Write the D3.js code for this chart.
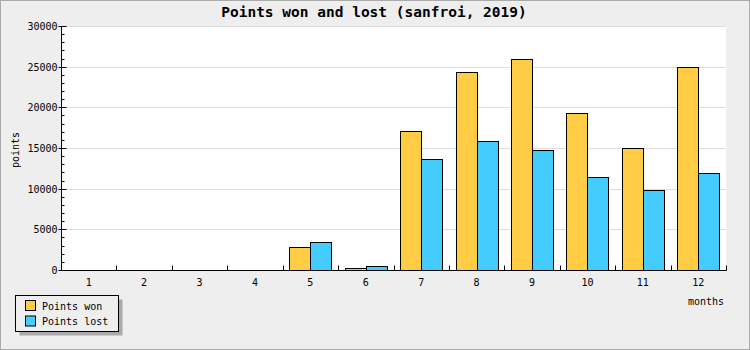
<!DOCTYPE html>
<html><head><meta charset="utf-8">
<script src="https://cdn.jsdelivr.net/npm/d3@7"></script>
<style>html,body{margin:0;padding:0;background:#eeeeee;}svg{display:block;}</style>
</head><body>
<svg id="c" width="750" height="350"></svg>
<script>
const months = ["1","2","3","4","5","6","7","8","9","10","11","12"];
const pointsWon  = [0,0,0,0,2800,200,17050,24300,25900,19270,15000,24920];
const pointsLost = [0,0,0,0,3400,450,13600,15820,14720,11400,9800,11900];
const seriesNames = ["Points won","Points lost"];
const seriesColors = ["#ffcc44","#44ccff"];
const yTicks = [0,5000,10000,15000,20000,25000,30000];
const titleText = "Points won and lost (sanfroi, 2019)";

const svg = d3.select("#c");
const W = 750, H = 350;
const m = {l:61, r:24, t:26, b:80};
const font = "'DejaVu Sans Mono', monospace";

svg.append("rect").attr("x",0.5).attr("y",0.5).attr("width",W-1).attr("height",H-1)
  .attr("fill","#eeeeee").attr("stroke","#aaaaaa");

const x = d3.scaleBand().domain(months).range([m.l, W-m.r]).padding(0);
const xs = d3.scaleBand().domain(seriesNames).range([0, x.bandwidth()]).paddingInner(0).paddingOuter(0.32);
const y = d3.scaleLinear().domain([0,30000]).range([H-m.b, m.t]);

svg.append("rect").attr("x",m.l).attr("y",m.t).attr("width",W-m.r-m.l).attr("height",H-m.b-m.t).attr("fill","#ffffff");

// gridlines
svg.append("g").selectAll("line").data(yTicks.filter(d=>d>0)).join("line")
  .attr("x1",m.l).attr("x2",W-m.r).attr("y1",d=>Math.round(y(d))+0.5).attr("y2",d=>Math.round(y(d))+0.5)
  .attr("stroke","#dddddd").attr("stroke-width",1);

// bars
const data = months.map((mo,i)=>({mo, vals:[pointsWon[i], pointsLost[i]]}));
const g = svg.append("g");
data.forEach(d=>{
  d.vals.forEach((v,j)=>{
    if(v<=0) return;
    const x0 = Math.round(x(d.mo)+xs(seriesNames[j]));
    const x1 = Math.round(x(d.mo)+xs(seriesNames[j])+xs.bandwidth());
    const yt = Math.round(y(v));
    g.append("rect").attr("x",x0+0.5).attr("y",yt+0.5).attr("width",x1-x0).attr("height",Math.round(y(0))-yt)
      .attr("fill",seriesColors[j]).attr("stroke","#000").attr("stroke-width",1);
  });
});

// y axis
const yAxisG = svg.append("g").attr("transform",`translate(${m.l+0.5},0)`);
const minor = d3.range(0,30001,1000).filter(v=>v%5000!==0);
yAxisG.selectAll("line.minor").data(minor).join("line").attr("class","minor")
  .attr("x1",0).attr("x2",3).attr("y1",d=>Math.round(y(d))+0.5).attr("y2",d=>Math.round(y(d))+0.5).attr("stroke","#000");
yAxisG.selectAll("line.major").data(yTicks).join("line").attr("class","major")
  .attr("x1",-3).attr("x2",5).attr("y1",d=>Math.round(y(d))+0.5).attr("y2",d=>Math.round(y(d))+0.5).attr("stroke","#000");
yAxisG.selectAll("text").data(yTicks).join("text")
  .attr("x",-4).attr("y",d=>y(d)+4).attr("text-anchor","end")
  .attr("font-family",font).attr("font-size",10).attr("fill","#000").text(d=>d);
yAxisG.append("line").attr("x1",0).attr("x2",0).attr("y1",m.t).attr("y2",H-m.b+0.5).attr("stroke","#000");

// x axis
const xAxisG = svg.append("g").attr("transform",`translate(0,${H-m.b+0.5})`);
xAxisG.append("line").attr("x1",m.l).attr("x2",W-m.r+0.5).attr("y1",0).attr("y2",0).attr("stroke","#000");
const bounds = months.map(mo=>x(mo)+x.bandwidth());
xAxisG.selectAll("line.t").data(bounds).join("line").attr("class","t")
  .attr("x1",d=>Math.round(d)+0.5).attr("x2",d=>Math.round(d)+0.5).attr("y1",-5).attr("y2",0).attr("stroke","#000");
xAxisG.selectAll("text").data(months).join("text")
  .attr("x",d=>x(d)+x.bandwidth()/2).attr("y",15).attr("text-anchor","middle")
  .attr("font-family",font).attr("font-size",10).attr("fill","#000").text(d=>d);

// title
svg.append("text").attr("x",374).attr("y",17).attr("text-anchor","middle")
  .attr("font-family",font).attr("font-weight","bold").attr("font-size",14.5).attr("fill","#000").text(titleText);

// axis titles
svg.append("text").attr("transform","translate(19,150) rotate(-90)").attr("text-anchor","middle")
  .attr("font-family",font).attr("font-size",10).attr("fill","#000").text("points");
svg.append("text").attr("x",724).attr("y",305).attr("text-anchor","end")
  .attr("font-family",font).attr("font-size",10).attr("fill","#000").text("months");

// legend
const lg = svg.append("g");
lg.append("rect").attr("x",19.5).attr("y",299.5).attr("width",103).attr("height",36).attr("fill","#aaaaaa");
lg.append("rect").attr("x",15.5).attr("y",295.5).attr("width",103).attr("height",36).attr("fill","#eeeeee").attr("stroke","#000");
seriesNames.forEach((s,i)=>{
  lg.append("rect").attr("x",25.5).attr("y",300.5+i*15.5).attr("width",10).attr("height",10)
    .attr("fill",seriesColors[i]).attr("stroke","#000");
  lg.append("text").attr("x",42).attr("y",309.5+i*15.5).attr("font-family",font).attr("font-size",10)
    .attr("fill","#000").text(s);
});
</script>
</body></html>
